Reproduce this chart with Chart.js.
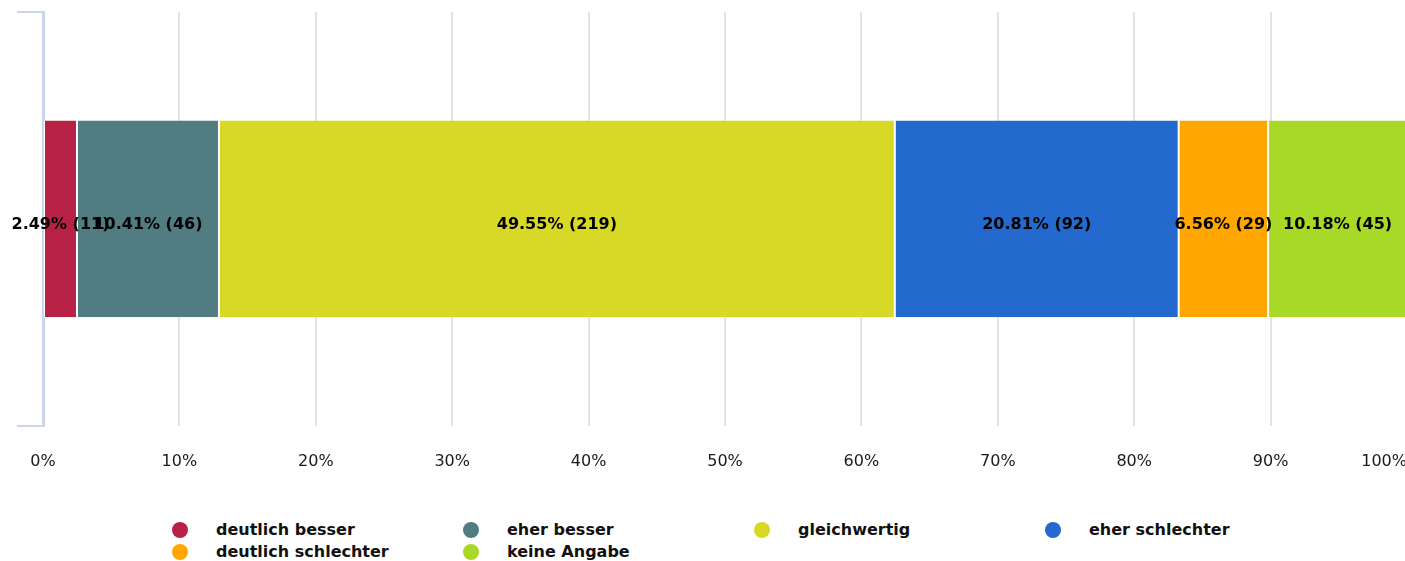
<!DOCTYPE html>
<html>
<head>
<meta charset="utf-8">
<script src="https://cdn.jsdelivr.net/npm/chart.js@4"></script>
<style>
  html, body { margin: 0; padding: 0; background: #fff; overflow: hidden; }
  #wrap { position: relative; width: 1405px; height: 506px; overflow: hidden; }
  #chart { display: block; max-width: none; }
  #legend {
    position: absolute; left: 0; top: 519px; width: 1405px;
    font: bold 16px "DejaVu Sans", sans-serif; color: #111;
  }
  .item { position: absolute; height: 22px; line-height: 22px; white-space: nowrap; }
  .dot { position: absolute; left: -44px; top: 3px; width: 16px; height: 16px; border-radius: 50%; }
</style>
</head>
<body>
<div id="wrap"><canvas id="chart" width="1407" height="506"></canvas></div>
<div id="legend"></div>
<script>
const categories = ["deutlich besser", "eher besser", "gleichwertig", "eher schlechter", "deutlich schlechter", "keine Angabe"];
const percents = [2.49, 10.41, 49.55, 20.81, 6.56, 10.18];
const counts = [11, 46, 219, 92, 29, 45];
const colors = ["#b82146", "#507c82", "#d8d927", "#2469cd", "#ffa700", "#a8d927"];

// text in the middle of each segment
const segmentLabels = {
  id: "segmentLabels",
  afterDatasetsDraw(chart) {
    const ctx = chart.ctx;
    ctx.save();
    ctx.font = "bold 16px 'DejaVu Sans', sans-serif";
    ctx.fillStyle = "#000";
    ctx.textAlign = "center";
    ctx.textBaseline = "middle";
    chart.data.datasets.forEach((ds, i) => {
      const bar = chart.getDatasetMeta(i).data[0];
      const x = (bar.x + bar.base) / 2;
      ctx.fillText(`${percents[i].toFixed(2)}% (${counts[i]})`, x, bar.y + 6);
    });
    ctx.restore();
  },
};

new Chart(document.getElementById("chart"), {
  type: "bar",
  data: {
    labels: [""],
    datasets: categories.map((name, i) => ({
      label: name,
      data: [percents[i]],
      backgroundColor: colors[i],
      borderColor: "#fff",
      borderWidth: { left: 1, right: 1, top: 0, bottom: 0 },
      borderSkipped: false,
      barPercentage: 0.475,
      categoryPercentage: 1,
    })),
  },
  options: {
    indexAxis: "y",
    responsive: false,
    animation: false,
    layout: { padding: { left: 17, top: 12, bottom: 9, right: 0 } },
    plugins: { legend: { display: false }, tooltip: { enabled: false } },
    scales: {
      x: {
        stacked: true,
        min: 0,
        max: 100,
        // let the plot run to the edge like in the original
        afterFit: (scale) => { scale.paddingRight = 0; },
        ticks: {
          stepSize: 10,
          padding: 26,
          color: "#1a1a1a",
          font: { family: "DejaVu Sans", size: 16 },
          // last label is pulled inwards, trailing spaces do that
          callback: (v) => v === 100 ? v + "%" + " ".repeat(9) : v + "%",
        },
        grid: {
          color: (c) => (c.tick && c.tick.value === 100 ? "rgba(0,0,0,0)" : "#e3e3e3"),
          lineWidth: 2,
          drawTicks: false,
        },
        border: { display: false },
      },
      y: {
        stacked: true,
        offset: true,
        ticks: { display: false },
        grid: { drawOnChartArea: false, drawTicks: true, tickLength: 26, color: "#ccd6eb", lineWidth: 2 },
        border: { display: true, color: "#ccd6eb", width: 3 },
      },
    },
  },
  plugins: [segmentLabels],
});

// legend laid out in a 4 column grid
const legend = document.getElementById("legend");
categories.forEach((name, i) => {
  const item = document.createElement("div");
  item.className = "item";
  item.style.left = (216 + (i % 4) * 291) + "px";
  item.style.top = (Math.floor(i / 4) * 22) + "px";
  const dot = document.createElement("span");
  dot.className = "dot";
  dot.style.background = colors[i];
  item.append(dot, document.createTextNode(name));
  legend.appendChild(item);
});
</script>
</body>
</html>
